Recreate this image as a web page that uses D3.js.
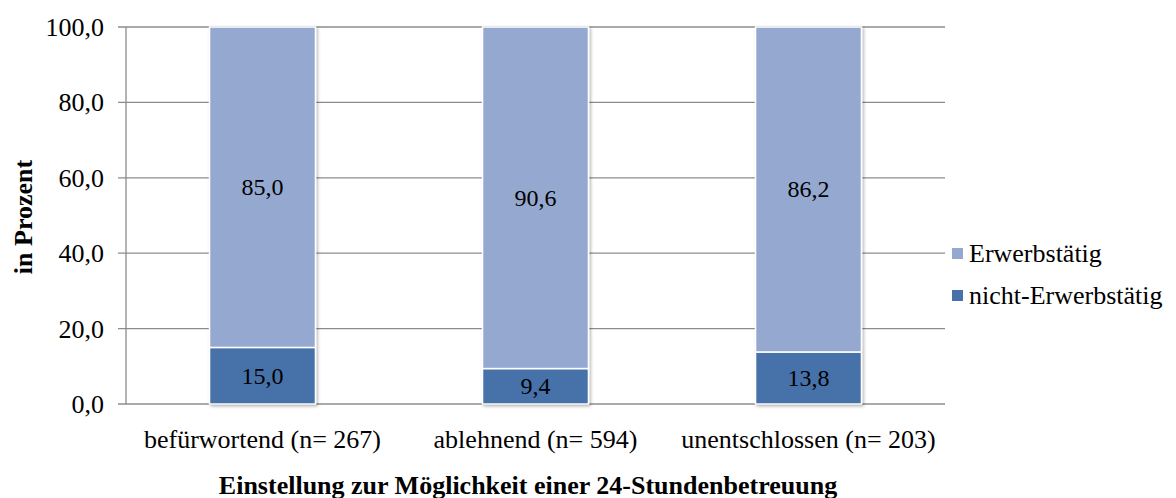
<!DOCTYPE html>
<html>
<head>
<meta charset="utf-8">
<script src="https://cdn.jsdelivr.net/npm/d3@7"></script>
<style>
  body { margin: 0; background: #fff; }
  text { font-family: "Liberation Serif", "Times New Roman", serif; fill: #000; }
</style>
</head>
<body>
<svg id="chart" width="1176" height="498"></svg>
<script>
// data
var categories = ["befürwortend (n= 267)", "ablehnend (n= 594)", "unentschlossen (n= 203)"];
var nichtErwerb = [15.0, 9.4, 13.8];
var erwerb = [85.0, 90.6, 86.2];
var yTicks = [0, 20, 40, 60, 80, 100];
var seriesNames = ["Erwerbstätig", "nicht-Erwerbstätig"];
var colors = { erwerb: "#95a9d0", nicht: "#4672a9" };

var svg = d3.select("#chart");
var plotLeft = 126, plotRight = 945, plotTop = 27, plotBottom = 404;

var x = d3.scaleBand().domain(categories).range([plotLeft, plotRight]).paddingInner(0.612).paddingOuter(0.306);
var y = d3.scaleLinear().domain([0, 100]).range([plotBottom, plotTop]);

var fmt = function (v) { return d3.format(".1f")(v).replace(".", ","); };

// shadow for bars
var defs = svg.append("defs");
var f = defs.append("filter").attr("id", "shadow").attr("x", "-10%").attr("y", "-10%").attr("width", "130%").attr("height", "130%");
f.append("feDropShadow").attr("dx", 1.5).attr("dy", 1.5).attr("stdDeviation", 1.5).attr("flood-color", "#000").attr("flood-opacity", 0.3);

// gridlines + ticks
svg.append("g")
    .selectAll("line")
    .data(yTicks)
    .join("line")
    .attr("x1", plotLeft - 8)
    .attr("x2", plotRight)
    .attr("y1", d => y(d))
    .attr("y2", d => y(d))
    .attr("stroke", "#8c8c8c")
    .attr("stroke-width", 1.3);

// y axis line
svg.append("line")
    .attr("x1", plotLeft).attr("x2", plotLeft)
    .attr("y1", plotTop).attr("y2", plotBottom)
    .attr("stroke", "#8c8c8c")
    .attr("stroke-width", 1.3);

svg.append("g")
    .selectAll("text")
    .data(yTicks)
    .join("text")
    .attr("x", 104)
    .attr("y", d => y(d) + 9)
    .attr("text-anchor", "end")
    .attr("font-size", 26)
    .text(d => fmt(d));

var rows = categories.map(function (c, i) {
    return { cat: c, nicht: nichtErwerb[i], erwerb: erwerb[i] };
});

var bars = svg.append("g").attr("filter", "url(#shadow)");

bars.selectAll(".nicht")
    .data(rows)
    .join("rect")
    .attr("class", "nicht")
    .attr("x", d => x(d.cat))
    .attr("width", x.bandwidth())
    .attr("y", d => y(d.nicht))
    .attr("height", d => y(0) - y(d.nicht))
    .attr("fill", colors.nicht)
    .attr("stroke", "#fff")
    .attr("stroke-width", 1.5);

bars.selectAll(".erwerb")
    .data(rows)
    .join("rect")
    .attr("class", "erwerb")
    .attr("x", d => x(d.cat))
    .attr("width", x.bandwidth())
    .attr("y", d => y(d.nicht + d.erwerb))
    .attr("height", d => y(d.nicht) - y(d.nicht + d.erwerb))
    .attr("fill", colors.erwerb)
    .attr("stroke", "#fff")
    .attr("stroke-width", 1.5);

// value labels
var labels = svg.append("g").attr("font-size", 24).attr("text-anchor", "middle");
labels.selectAll(".ln")
    .data(rows)
    .join("text")
    .attr("class", "ln")
    .attr("x", d => x(d.cat) + x.bandwidth() / 2)
    .attr("y", d => y(d.nicht / 2))
    .attr("dy", "0.33em")
    .text(d => fmt(d.nicht));
labels.selectAll(".le")
    .data(rows)
    .join("text")
    .attr("class", "le")
    .attr("x", d => x(d.cat) + x.bandwidth() / 2)
    .attr("y", d => y(d.nicht + d.erwerb / 2))
    .attr("dy", "0.33em")
    .text(d => fmt(d.erwerb));

// category labels
svg.append("g")
    .selectAll("text")
    .data(categories)
    .join("text")
    .attr("x", d => x(d) + x.bandwidth() / 2)
    .attr("y", 448)
    .attr("text-anchor", "middle")
    .attr("font-size", 26)
    .text(d => d);

// axis titles
svg.append("text")
    .attr("x", 528)
    .attr("y", 494)
    .attr("text-anchor", "middle")
    .attr("font-size", 26)
    .attr("font-weight", "bold")
    .text("Einstellung zur Möglichkeit einer 24-Stundenbetreuung");

svg.append("text")
    .attr("transform", "translate(32,217) rotate(-90)")
    .attr("text-anchor", "middle")
    .attr("font-size", 26)
    .attr("font-weight", "bold")
    .text("in Prozent");

// legend
var legend = svg.append("g");
var legendItems = [
    { name: seriesNames[0], color: colors.erwerb, y: 253.5 },
    { name: seriesNames[1], color: colors.nicht, y: 295.5 }
];
legend.selectAll("rect")
    .data(legendItems)
    .join("rect")
    .attr("x", 952)
    .attr("y", d => d.y - 5.5)
    .attr("width", 11)
    .attr("height", 11)
    .attr("fill", d => d.color);
legend.selectAll("text")
    .data(legendItems)
    .join("text")
    .attr("x", 969)
    .attr("y", d => d.y + 8.5)
    .attr("font-size", 26)
    .text(d => d.name);
</script>
</body>
</html>
